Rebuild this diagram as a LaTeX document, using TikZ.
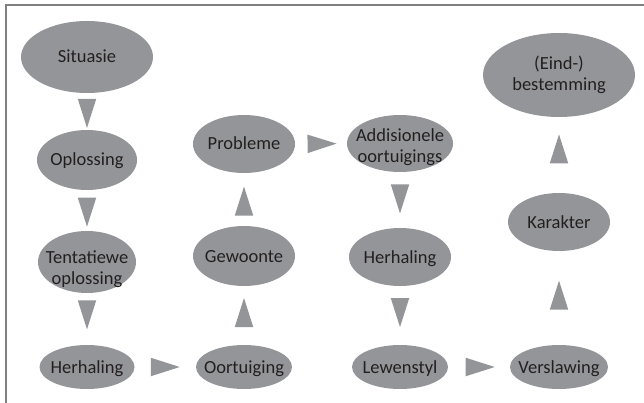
\documentclass[tikz,border=0pt]{standalone}
\usepackage{fontspec}
\setmainfont{Carlito}
\usetikzlibrary{shapes.geometric,decorations.markings}
\definecolor{ellfill}{HTML}{939598}
\definecolor{txt}{HTML}{231F20}
\definecolor{framec}{HTML}{808080}
\tikzset{
  ell/.style={ellipse, fill=ellfill, draw=none, inner sep=0pt, outer sep=0pt},
  lbl/.style={text=txt, align=center, inner sep=0pt, font=\fontsize{18.5}{21}\selectfont},
  one/.style={lbl, anchor=base, yshift=-6pt},
  tri/.style={postaction={decorate}, decoration={markings,
    mark=at position #1 with {\fill[ellfill] (-14.5,-9.25) -- (14.5,0) -- (-14.5,9.25) -- cycle;}}},
  tri/.default=0.5,
}
\begin{document}
\begin{tikzpicture}[x=1pt,y=-1pt]
\useasboundingbox (0,0) rectangle (644,403);
\draw[framec, line width=1.6pt] (6,403) -- (6,5) -- (644,5);
% column A
\node[ell, minimum width=132pt, minimum height=72pt] (sit) at (87,57) {};
\node[ell, minimum width=100pt, minimum height=60pt] (opl) at (87,160) {};
\node[ell, minimum width=98pt, minimum height=62pt] (ten) at (87,262) {};
\node[ell, minimum width=95pt, minimum height=44pt] (her1) at (87,367) {};
% column B
\node[ell, minimum width=96pt, minimum height=44pt] (oor) at (244,367) {};
\node[ell, minimum width=102pt, minimum height=60pt] (gew) at (244,256) {};
\node[ell, minimum width=102pt, minimum height=58pt] (pro) at (244,144) {};
% column C
\node[ell, minimum width=106pt, minimum height=57pt] (add) at (400,143.5) {};
\node[ell, minimum width=102pt, minimum height=58pt] (her2) at (400,257) {};
\node[ell, minimum width=96pt, minimum height=44pt] (lew) at (400,367) {};
% column D
\node[ell, minimum width=98pt, minimum height=44pt] (ver) at (559,367) {};
\node[ell, minimum width=102pt, minimum height=58pt] (kar) at (559,222) {};
\node[ell, minimum width=152pt, minimum height=84pt] (bes) at (559,75) {};
% texts
\node[one] (sit-t) at (sit.center) {Situasie};
\node[one] (opl-t) at (opl.center) {Oplossing};
\node[lbl, yshift=-7pt] (ten-t) at (ten.center) {Tentatiewe\\oplossing};
\node[one] (her1-t) at (her1.center) {Herhaling};
\node[one] (oor-t) at (oor.center) {Oortuiging};
\node[one] (gew-t) at (gew.center) {Gewoonte};
\node[one] (pro-t) at (pro.center) {Probleme};
\node[lbl, yshift=-4pt] (add-t) at (add.center) {Addisionele\\oortuigings};
\node[one] (her2-t) at (her2.center) {Herhaling};
\node[one] (lew-t) at (lew.center) {Lewenstyl};
\node[one] (ver-t) at (ver.center) {Verslawing};
\node[one] (kar-t) at (kar.center) {Karakter};
\node[lbl] (bes-t) at (bes.center) {(Eind-)\\bestemming};
% connectors (triangles)
\path[tri=0.55] (sit.south) -- (opl.north);
\path[tri=0.54] (opl.south) -- (ten.north);
\path[tri=0.42] (ten.south) -- (her1.north);
\path[tri=0.5] (her1.east) -- (oor.west);
\path[tri=0.55] (oor.north) -- (gew.south);
\path[tri=0.47] (gew.north) -- (pro.south);
\path[tri=0.52] (pro.east) -- (add.west);
\path[tri=0.48] (add.south) -- (her2.north);
\path[tri=0.45] (her2.south) -- (lew.north);
\path[tri=0.52] (lew.east) -- (ver.west);
\path[tri=0.53] (ver.north) -- (kar.south);
\path[tri=0.58] (kar.north) -- (bes.south);
\end{tikzpicture}
\end{document}
